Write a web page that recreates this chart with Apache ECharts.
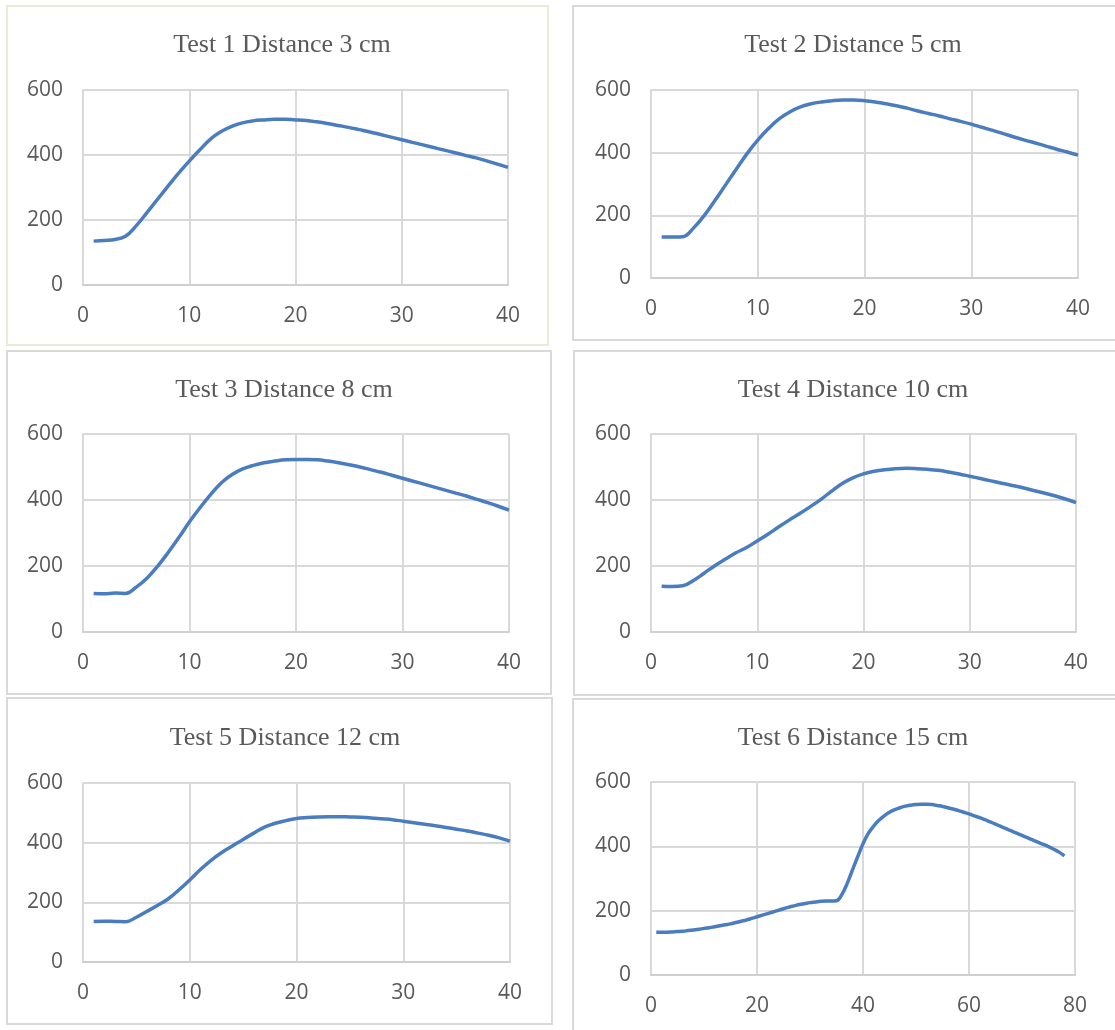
<!DOCTYPE html>
<html>
<head>
<meta charset="utf-8">
<script src="https://cdn.jsdelivr.net/npm/echarts@6/dist/echarts.min.js"></script>
<style>
html,body{margin:0;padding:0;background:#fff;}
#c{width:1115px;height:1030px;}
</style>
</head>
<body>
<div id="c"></div>
<script>
var titles = ["Test 1 Distance 3 cm","Test 2 Distance 5 cm","Test 3 Distance 8 cm","Test 4 Distance 10 cm","Test 5 Distance 12 cm","Test 6 Distance 15 cm"];
var yTicks = [0, 200, 400, 600];
var xMaxes = [40, 40, 40, 40, 40, 80];
var xIntervals = [10, 10, 10, 10, 10, 20];

var test1 = [135,137,140,150,182,222,263,304,344,381,416,449,472,488,499,505,508,510,510,508,506,502,497,491,485,478,471,463,455,447,439,431,423,415,407,399,391,382,372,362];
var test2 = [131,131,132,160,200,248,298,348,397,440,477,508,530,546,556,562,566,568,568,566,562,556,550,542,533,525,517,508,500,491,481,471,461,450,440,431,421,411,402,392];
var test3 = [117,116,118,117,136,163,199,241,286,334,377,417,452,477,494,505,513,518,522,523,523,522,518,513,507,500,492,484,475,466,457,448,439,430,421,412,402,392,381,369];
var test4 = [139,138,140,156,178,201,221,240,256,276,296,318,339,359,380,402,427,450,467,479,487,492,495,496,495,493,490,485,479,472,465,458,451,444,437,429,421,413,403,392];
var test5 = [136,137,136,135,150,170,190,212,242,275,310,341,367,389,411,432,452,465,474,481,484,486,487,487,486,485,483,480,477,472,467,462,457,451,445,439,432,425,416,405];
var test6 = [133,133,133,134,135,136,138,140,142,145,147,150,153,156,159,163,167,171,176,181,186,191,196,201,206,211,215,219,222,225,227,229,230,230,231,250,284,326,368,408,440,463,481,495,506,514,520,525,528,530,531,531,530,527,524,520,516,511,506,501,495,489,483,476,469,462,455,448,441,434,427,420,413,406,399,391,382,370];

var seriesData = [test1, test2, test3, test4, test5, test6];

// layout (pixels)
var grids = [
  {left:83, top:90, width:425, height:195},
  {left:651, top:90, width:427, height:188},
  {left:83, top:434, width:426, height:198},
  {left:651, top:434, width:425, height:198},
  {left:83, top:783, width:427, height:179},
  {left:651, top:782, width:424, height:193}
];
var titlePos = [[277,27],[848,27],[279,372],[848,372],[280,720],[848,720]];
var panels = [
  {x:7, y:6, w:541, h:339, c:'#ebead8'},
  {x:573, y:6, w:560, h:334, c:'#d9d9d9'},
  {x:7, y:351, w:544, h:343, c:'#d9d9d9'},
  {x:574, y:351, w:560, h:344, c:'#d9d9d9'},
  {x:7, y:698, w:545, h:326, c:'#d9d9d9'},
  {x:573, y:699, w:560, h:360, c:'#d9d9d9'}
];

var labelFont = {color:'#595959', fontFamily:'Open Sans', fontSize:21};
var gridColor = '#d9d9d9';

var option = {
  animation:false,
  backgroundColor:'#ffffff',
  title: titles.map(function(t,i){
    return {text:t, left:titlePos[i][0], top:titlePos[i][1], textAlign:'center',
      textStyle:{fontFamily:'Liberation Serif', fontWeight:'normal', fontSize:26, color:'#595959'}};
  }),
  grid: grids.map(function(g){ return {left:g.left, top:g.top, width:g.width, height:g.height, containLabel:false}; }),
  xAxis: grids.map(function(g,i){
    return {type:'value', gridIndex:i, min:0, max:xMaxes[i], interval:xIntervals[i],
      axisLine:{show:true, lineStyle:{color:'#cfcfcf', width:2}},
      axisTick:{show:false},
      axisLabel:Object.assign({margin:21}, labelFont),
      splitLine:{show:true, lineStyle:{color:gridColor, width:2}}};
  }),
  yAxis: grids.map(function(g,i){
    return {type:'value', gridIndex:i, min:yTicks[0], max:yTicks[yTicks.length-1], interval:200,
      axisLine:{show:true, lineStyle:{color:gridColor, width:2}},
      axisTick:{show:false},
      axisLabel:Object.assign({margin:20}, labelFont),
      splitLine:{show:true, lineStyle:{color:gridColor, width:2}}};
  }),
  series: seriesData.map(function(d,i){
    return {type:'line', xAxisIndex:i, yAxisIndex:i, smooth:0.4, symbol:'none',
      lineStyle:{color:'#4a7cc0', width:3.5}, itemStyle:{color:'#4a7cc0'},
      data:d.map(function(v,k){ return [k+1, v]; })};
  }),
  graphic: panels.map(function(p){
    return {type:'rect', shape:{x:p.x, y:p.y, width:p.w, height:p.h}, silent:true, z:-10,
      style:{fill:null, stroke:p.c, lineWidth:2}};
  })
};

var chart = echarts.init(document.getElementById('c'), null, {renderer:'canvas'});
chart.setOption(option);
</script>
</body>
</html>
